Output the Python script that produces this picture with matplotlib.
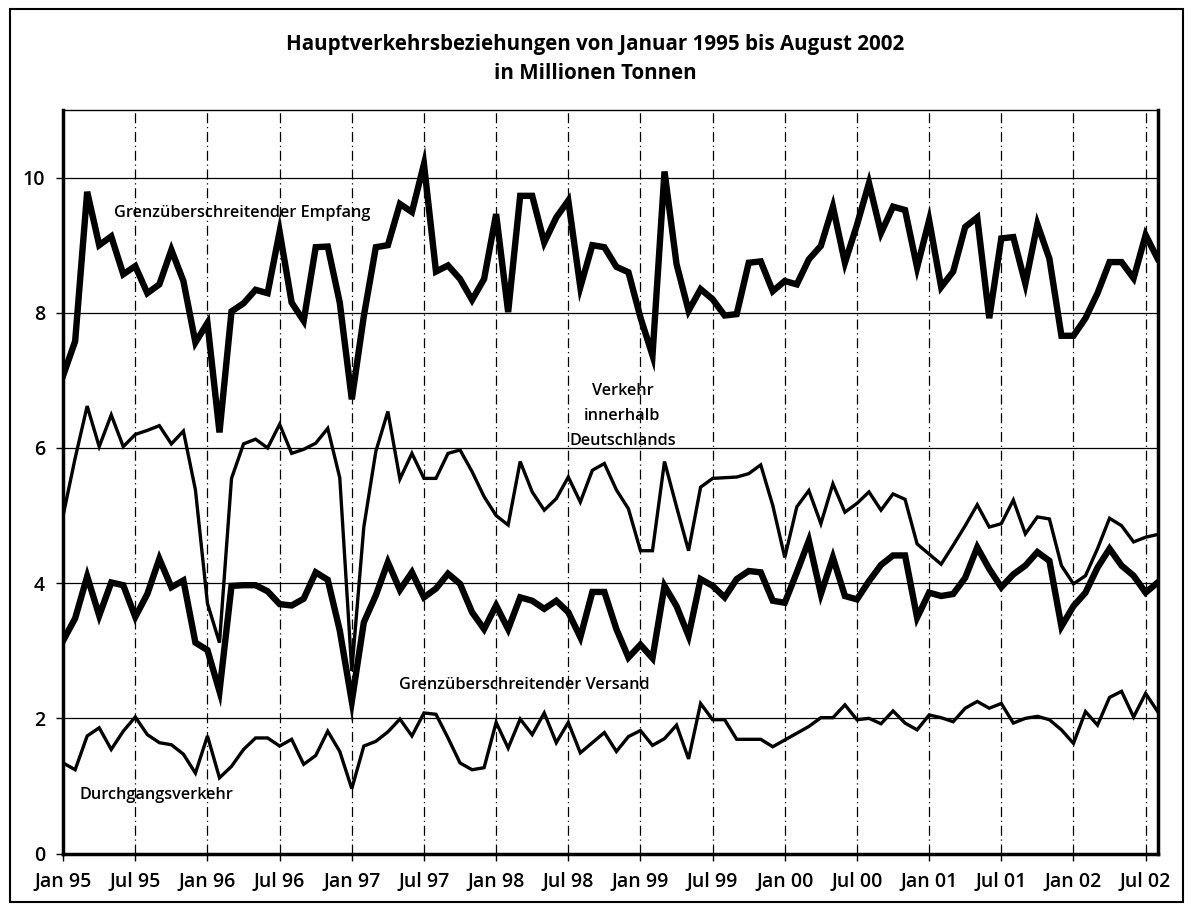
import numpy as np
import matplotlib
matplotlib.use("Agg")
import matplotlib.pyplot as plt
from matplotlib.patches import Rectangle

plt.rcParams['font.family'] = ['Open Sans', 'DejaVu Sans']

# monthly values Jan 1995 .. Aug 2002, million tonnes
empfang = [7.07, 7.58, 9.79, 9.0, 9.13, 8.57, 8.69, 8.29, 8.42, 8.93, 8.47, 7.56,
           7.85, 6.23, 8.02, 8.14, 8.34, 8.29, 9.2, 8.15, 7.88, 8.97, 8.98, 8.15,
           6.72, 7.95, 8.97, 9.0, 9.61, 9.49, 10.2, 8.61, 8.70, 8.5, 8.19, 8.5,
           9.46, 8.01, 9.73, 9.73, 9.04, 9.41, 9.66, 8.38, 9.0, 8.97, 8.68, 8.6,
           7.93, 7.37, 10.09, 8.72, 8.03, 8.35, 8.2, 7.96, 7.98, 8.74, 8.76, 8.32,
           8.47, 8.42, 8.79, 8.99, 9.57, 8.74, 9.3, 9.92, 9.18, 9.57, 9.52, 8.67,
           9.37, 8.38, 8.61, 9.27, 9.41, 7.92, 9.1, 9.12, 8.43, 9.31, 8.8, 7.66,
           7.66, 7.92, 8.29, 8.75, 8.75, 8.51, 9.15, 8.8]

innerhalb = [5.0, 5.85, 6.62, 6.02, 6.49, 6.02, 6.2, 6.26, 6.33, 6.06, 6.25, 5.38,
             3.7, 3.12, 5.55, 6.06, 6.13, 6.0, 6.35, 5.92, 5.98, 6.07, 6.29, 5.56,
             2.7, 4.83, 5.95, 6.54, 5.54, 5.92, 5.55, 5.55, 5.92, 5.97, 5.65, 5.28,
             5.0, 4.86, 5.8, 5.35, 5.08, 5.25, 5.57, 5.2, 5.67, 5.77, 5.38, 5.1,
             4.48, 4.48, 5.8, 5.13, 4.48, 5.42, 5.55, 5.56, 5.57, 5.62, 5.75, 5.15,
             4.38, 5.13, 5.37, 4.88, 5.47, 5.05, 5.18, 5.35, 5.08, 5.32, 5.24, 4.58,
             4.43, 4.28, 4.56, 4.85, 5.16, 4.83, 4.88, 5.23, 4.73, 4.98, 4.95, 4.26,
             3.99, 4.11, 4.51, 4.96, 4.85, 4.61, 4.68, 4.72]

versand = [3.15, 3.48, 4.1, 3.52, 4.01, 3.97, 3.5, 3.84, 4.36, 3.94, 4.04, 3.12,
           3.01, 2.4, 3.96, 3.97, 3.97, 3.88, 3.69, 3.67, 3.77, 4.16, 4.05, 3.3,
           2.25, 3.42, 3.82, 4.31, 3.9, 4.16, 3.79, 3.92, 4.14, 3.99, 3.57, 3.32,
           3.67, 3.32, 3.79, 3.74, 3.62, 3.74, 3.57, 3.2, 3.87, 3.87, 3.32, 2.9,
           3.09, 2.89, 3.96, 3.66, 3.22, 4.06, 3.96, 3.79, 4.06, 4.18, 4.16, 3.74,
           3.71, 4.16, 4.63, 3.84, 4.38, 3.81, 3.76, 4.03, 4.27, 4.41, 4.41, 3.49,
           3.86, 3.81, 3.84, 4.08, 4.53, 4.21, 3.94, 4.13, 4.26, 4.46, 4.33, 3.36,
           3.66, 3.86, 4.23, 4.51, 4.26, 4.11, 3.86, 4.01]

durchgang = [1.34, 1.24, 1.74, 1.86, 1.54, 1.81, 2.02, 1.76, 1.64, 1.61, 1.47, 1.19,
             1.74, 1.12, 1.29, 1.54, 1.71, 1.71, 1.59, 1.69, 1.32, 1.45, 1.81, 1.51,
             0.96, 1.59, 1.66, 1.8, 1.99, 1.74, 2.08, 2.06, 1.71, 1.34, 1.24, 1.27,
             1.94, 1.56, 1.99, 1.76, 2.08, 1.64, 1.94, 1.49, 1.64, 1.79, 1.51, 1.73,
             1.82, 1.6, 1.7, 1.9, 1.4, 2.22, 1.98, 1.98, 1.69, 1.69, 1.69, 1.58,
             1.68, 1.78, 1.88, 2.01, 2.01, 2.2, 1.98, 2.0, 1.92, 2.11, 1.93, 1.83,
             2.05, 2.01, 1.95, 2.15, 2.25, 2.15, 2.22, 1.93, 2.0, 2.03, 1.98, 1.83,
             1.63, 2.1, 1.9, 2.31, 2.4, 2.02, 2.37, 2.1]

tick_labels = ["Jan 95", "Jul 95", "Jan 96", "Jul 96", "Jan 97", "Jul 97", "Jan 98",
               "Jul 98", "Jan 99", "Jul 99", "Jan 00", "Jul 00", "Jan 01", "Jul 01",
               "Jan 02", "Jul 02"]

months = np.arange(len(empfang))

fig = plt.figure(figsize=(11.91, 9.09), dpi=100)
ax = fig.add_axes([0.053, 0.061, 0.919, 0.818])

# grid
for v in [2, 4, 6, 8, 10]:
    ax.axhline(v, color="black", lw=0.9, zorder=1)
for m in range(6, len(months), 6):
    ax.axvline(m, color="black", lw=0.9, ls=(0, (8, 3, 1, 3)), zorder=1)

ax.plot(months, empfang, color="black", lw=4.6, solid_joinstyle="miter", zorder=3)
ax.plot(months, innerhalb, color="black", lw=2.4, solid_joinstyle="miter", zorder=3)
ax.plot(months, versand, color="black", lw=4.6, solid_joinstyle="miter", zorder=3)
ax.plot(months, durchgang, color="black", lw=2.4, solid_joinstyle="miter", zorder=3)

ax.set_xlim(0, len(months) - 1)
ax.set_ylim(0, 11)
ax.set_xticks(range(0, len(months), 6))
ax.set_xticklabels(tick_labels)
ax.set_yticks([0, 2, 4, 6, 8, 10])
ax.tick_params(axis="both", labelsize=14, length=5, width=1, direction="out", pad=8)
for t in ax.get_xticklabels() + ax.get_yticklabels():
    t.set_fontweight("semibold")

for side in ["left", "bottom", "right"]:
    ax.spines[side].set_linewidth(2.5)
ax.spines["top"].set_linewidth(1)

lab = dict(fontsize=11.7, fontweight="semibold", color="black", zorder=4)
ax.text(4.2, 9.48, "Grenzüberschreitender Empfang", ha="left", va="center", **lab)
ax.text(46.5, 6.47, "Verkehr\ninnerhalb\nDeutschlands", ha="center", va="center",
        linespacing=1.75, **lab)
ax.text(27.9, 2.49, "Grenzüberschreitender Versand", ha="left", va="center", **lab)
ax.text(1.4, 0.86, "Durchgangsverkehr", ha="left", va="center", **lab)

fig.text(0.5, 0.935, "Hauptverkehrsbeziehungen von Januar 1995 bis August 2002\nin Millionen Tonnen",
         ha="center", va="center", fontsize=14.8, fontweight="bold", linespacing=1.45)

fig.patches.append(Rectangle((0.008, 0.008), 0.985, 0.982, transform=fig.transFigure,
                             fill=False, edgecolor="black", lw=1.5))

fig.savefig("out.png", dpi=100)
